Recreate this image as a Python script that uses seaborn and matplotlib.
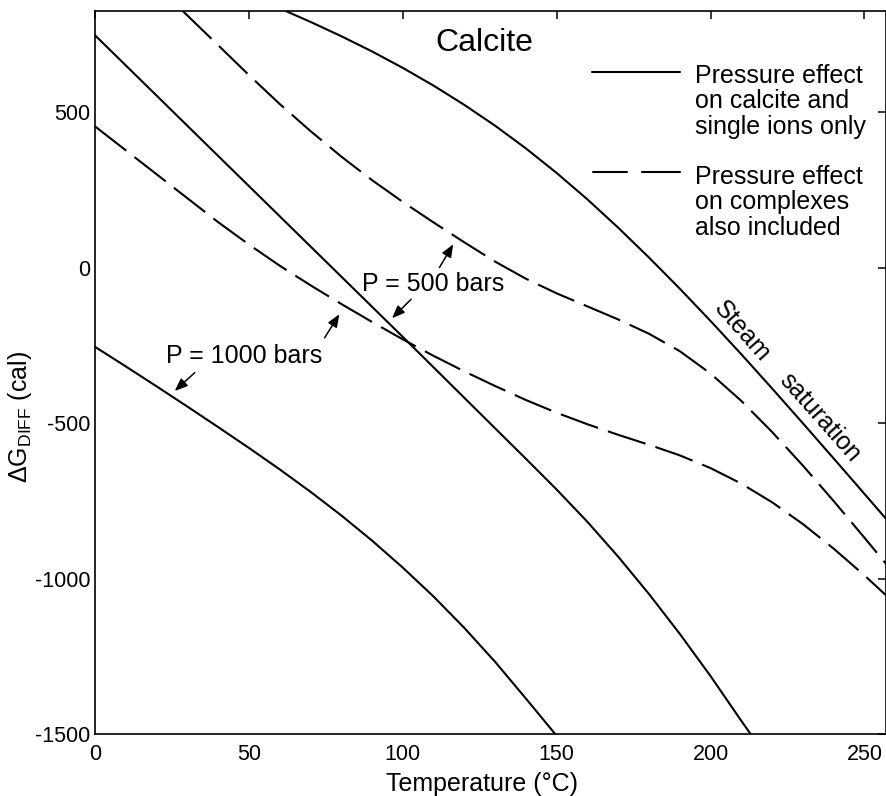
import matplotlib
matplotlib.use("Agg")
import matplotlib.pyplot as plt
import seaborn as sns

# ---- data ----
# P = 1000 bars, pressure effect on calcite and single ions only (solid)
t_a = [0, 10, 20, 30, 40, 50, 60, 70, 80, 90, 100, 110, 120, 130, 140, 149.5]
g_a = [-255, -318, -382, -447, -513, -580, -649, -721, -797, -878, -965, -1058, -1159, -1268, -1386, -1500]

# P = 500 bars, solid
t_b = [0, 10, 20, 30, 40, 50, 60, 70, 80, 90, 100, 110, 120, 130, 140, 150, 160, 170, 180, 190, 200, 210, 213]
g_b = [747, 650, 553, 456, 359, 262, 165, 68, -29, -126, -223, -321, -419, -517, -615, -714, -818, -930, -1050, -1178, -1314, -1458, -1500]

# steam saturation, solid
t_c = [62.2, 70, 80, 90, 100, 110, 120, 130, 140, 150, 160, 170, 180, 190, 200, 210, 220, 230, 240, 250, 257]
g_c = [824, 790, 744, 695, 642, 585, 523, 456, 383, 304, 219, 128, 32, -68, -172, -279, -389, -501, -614, -728, -808]

# P = 500 bars, pressure effect on complexes also included (dashed)
t_d = [28.6, 40, 50, 60, 70, 80, 90, 100, 110, 120, 130, 140, 150, 160, 170, 180, 190, 200, 210, 220, 230, 240, 250, 257]
g_d = [824, 715, 619, 526, 439, 357, 281, 211, 145, 81, 19, -36, -83, -125, -167, -213, -269, -341, -429, -529, -637, -751, -869, -953]

# P = 1000 bars, dashed
t_e = [0, 10, 20, 30, 40, 50, 60, 70, 80, 90, 100, 110, 120, 130, 140, 150, 160, 170, 180, 190, 200, 210, 220, 230, 240, 250, 257]
g_e = [454, 377, 300, 223, 146, 74, 6, -57, -117, -175, -231, -284, -334, -381, -426, -467, -504, -538, -570, -604, -645, -695, -755, -825, -904, -990, -1054]

x_ticks = [0, 50, 100, 150, 200, 250]
y_ticks = [-1500, -1000, -500, 0, 500]

legend_solid = ["Pressure effect", "on calcite and", "single ions only"]
legend_dashed = ["Pressure effect", "on complexes", "also included"]

# ---- style ----
sns.set_theme(style="white")
plt.rcParams['font.family'] = ['Liberation Sans', 'DejaVu Sans']
plt.rcParams['mathtext.fontset'] = 'custom'
plt.rcParams['mathtext.rm'] = 'Liberation Sans'
plt.rcParams['mathtext.it'] = 'Liberation Sans:italic'
plt.rcParams['axes.unicode_minus'] = False

fig = plt.figure(figsize=(8.87, 7.96), dpi=100)
ax = fig.add_axes([0.1071, 0.0779, 0.8918, 0.9083])

lw = 1.5
dash = (0, (19, 5))
for xs, ys, ls in [(t_a, g_a, '-'), (t_b, g_b, '-'), (t_c, g_c, '-'),
                   (t_d, g_d, dash), (t_e, g_e, dash)]:
    sns.lineplot(x=xs, y=ys, ax=ax, color='black', linewidth=lw,
                 linestyle=ls, sort=False, estimator=None)

ax.set_xlim(0, 257)
ax.set_ylim(-1500, 825)
ax.set_xticks(x_ticks)
ax.set_yticks(y_ticks)
ax.tick_params(axis='both', direction='in', length=6, width=1.1,
               top=True, right=True, labelsize=15.5, colors='black')
ax.tick_params(axis='x', pad=7.5)
ax.tick_params(axis='y', pad=3.5)
for sp in ax.spines.values():
    sp.set_color('black')
    sp.set_linewidth(1.2)

ax.set_xlabel("Temperature (°C)", fontsize=18, color='black')
ax.xaxis.set_label_coords(0.489, -0.053)
ax.set_ylabel("ΔG$_\\mathrm{DIFF}$ (cal)", fontsize=18, color='black')
ax.yaxis.set_label_coords(-0.077, 0.438)

# title inside
ax.text(126.5, 721, "Calcite", fontsize=23, ha='center', va='center', color='black')

# legend (manual, in axes fraction)
def fx(px):
    return (px - 95) / 791.0

def fy(py):
    return (734 - py) / 723.0

ax.plot([fx(592), fx(680)], [fy(72), fy(72)], transform=ax.transAxes,
        color='black', lw=lw, clip_on=False)
ax.plot([fx(593), fx(627)], [fy(172), fy(172)], transform=ax.transAxes,
        color='black', lw=lw, clip_on=False)
ax.plot([fx(642), fx(680)], [fy(172), fy(172)], transform=ax.transAxes,
        color='black', lw=lw, clip_on=False)
for i, s in enumerate(legend_solid):
    ax.text(fx(695), fy(76 + 25.5 * i), s, transform=ax.transAxes,
            fontsize=18, ha='left', va='center', color='black')
for i, s in enumerate(legend_dashed):
    ax.text(fx(695), fy(177 + 25.5 * i), s, transform=ax.transAxes,
            fontsize=18, ha='left', va='center', color='black')

# annotations
ax.text(48.5, -284.6, "P = 1000 bars", fontsize=18, ha='center', va='center', color='black')
ax.text(109.9, -52.5, "P = 500 bars", fontsize=18, ha='center', va='center', color='black')

aprops = dict(arrowstyle='-|>,head_length=0.55,head_width=0.22', color='black',
              lw=1.1, shrinkA=0, shrinkB=0, mutation_scale=14)
ax.annotate("", xy=(25.9, -397), xytext=(32.4, -338), arrowprops=aprops)
ax.annotate("", xy=(79.4, -150), xytext=(74.6, -226), arrowprops=aprops)
ax.annotate("", xy=(116.4, 75), xytext=(111.9, 0), arrowprops=aprops)
ax.annotate("", xy=(96.5, -163), xytext=(102.7, -102), arrowprops=aprops)

ax.text(210.2, -204, "Steam", fontsize=18, rotation=-48.5, rotation_mode='anchor',
        ha='center', va='center', color='black')
ax.text(235.5, -483, "saturation", fontsize=18, rotation=-48.5, rotation_mode='anchor',
        ha='center', va='center', color='black')

fig.savefig("out.png", dpi=100)
